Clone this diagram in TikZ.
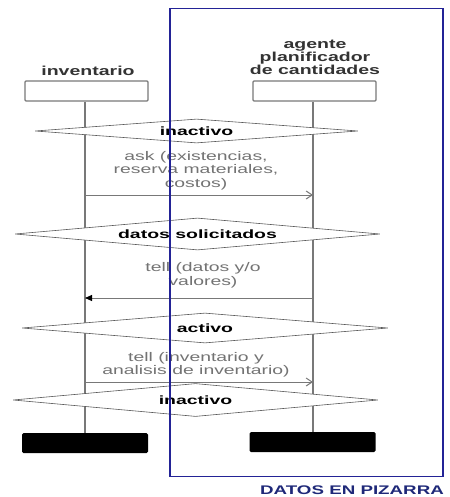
\documentclass[tikz,border=0pt]{standalone}
\usepackage{fontspec}
\setmainfont{Liberation Sans}
\newfontfamily\widefont[FakeStretch=1.5]{Liberation Sans}
\newfontfamily\statefont[FakeStretch=1.62]{Liberation Sans}
\newfontfamily\msgfont[FakeStretch=1.55]{Liberation Sans}
\usetikzlibrary{shapes.geometric,arrows.meta}
\definecolor{boardblue}{RGB}{35,35,150}
\definecolor{boardtext}{RGB}{30,40,120}
\definecolor{lifegray}{RGB}{120,120,120}
\tikzset{
  headbox/.style={draw=lifegray,line width=1.2pt,minimum width=123pt,minimum height=20pt,inner sep=0pt,rounded corners=1pt},
  endbox/.style={fill=black,minimum width=126pt,minimum height=20pt,inner sep=0pt,rounded corners=1.5pt},
  title/.style={font=\widefont\bfseries\fontsize{13}{12}\selectfont,text=black!80,align=center,inner sep=0pt},
  lifeline/.style={draw=lifegray,line width=1.4pt},
  statebox/.style={diamond,draw=black!65,fill=white,line width=0.6pt,inner sep=0pt,aspect=12,
    font=\statefont\bfseries\fontsize{12}{12}\selectfont},
  msgtext/.style={font=\msgfont\fontsize{12.5}{13.5}\selectfont,text=black!55,align=center,inner sep=0pt},
  msgopen/.style={draw=lifegray,line width=1pt,-{Straight Barb[length=6pt,width=8pt]}},
  msgfill/.style={draw=lifegray,line width=1pt,-{Triangle[length=7pt,width=6pt,color=black]}},
}
\begin{document}
\begin{tikzpicture}[x=1pt,y=-1pt]
\useasboundingbox (0,0) rectangle (449,497);

% participants
\node[title] (invname) at (88,71) {inventario};
\node[title] (agname) at (315,57) {agente\\planificador\\de cantidades};
\node[headbox] (inv) at (86.5,91) {};
\node[headbox] (ag) at (314.5,91) {};
\node[endbox] (invend) at (85,443) {};
\node[endbox] (agend) at (312.5,442) {};

% lifelines
\draw[lifeline] (inv.south -| 85,0) -- (invend.north -| 85,0);
\draw[lifeline] (ag.south -| 313,0) -- (agend.north -| 313,0);

% states
\node[statebox,minimum width=323pt,minimum height=24pt] (s1) at (196.5,131) {inactivo};
\node[statebox,minimum width=365pt,minimum height=32pt] (s2) at (197.5,234) {datos solicitados};
\node[statebox,minimum width=366pt,minimum height=30pt] (s3) at (205,328) {activo};
\node[statebox,minimum width=365pt,minimum height=33pt] (s4) at (195.5,400) {inactivo};

% messages
\coordinate (m1a) at (85,195);
\coordinate (m1b) at (313,195);
\coordinate (m2a) at (313,298);
\coordinate (m2b) at (85,298);
\coordinate (m3a) at (85,382);
\coordinate (m3b) at (313,382);
\draw[msgopen] (m1a) -- (m1b);
\draw[msgfill] (m2a) -- (m2b);
\draw[msgopen] (m3a) -- (m3b);
\node[msgtext] (t1) at (196,170.5) {ask (existencias,\\reserva materiales,\\costos)};
\node[msgtext] (t2) at (203,275.5) {tell (datos y/o\\valores)};
\node[msgtext] (t3) at (196,365) {tell (inventario y\\analisis de inventario)};

% blackboard frame
\node[draw=boardblue,line width=1.6pt,minimum width=273pt,minimum height=468pt,inner sep=0pt] (board) at (306.5,242.5) {};
\node[font=\widefont\bfseries\fontsize{12.5}{12}\selectfont,text=boardtext,inner sep=0pt] (boardlabel) at (352,490) {DATOS EN PIZARRA};
\end{tikzpicture}
\end{document}
